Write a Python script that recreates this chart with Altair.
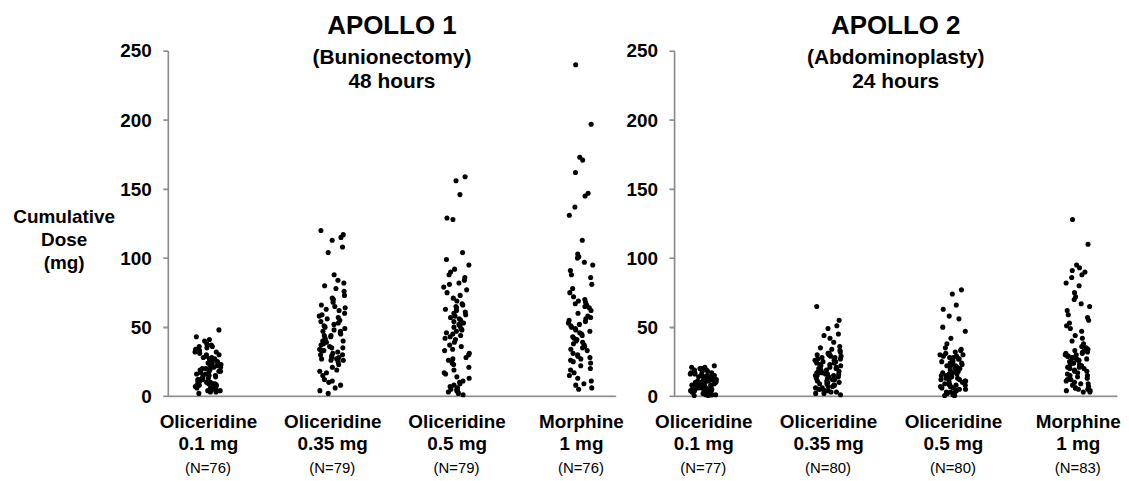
import json
import altair as alt
import pandas as pd

FONT = "Liberation Sans"

# category labels (two bold lines each), group sizes, y tick values
label_lines = [["Oliceridine", "0.1 mg"], ["Oliceridine", "0.35 mg"],
               ["Oliceridine", "0.5 mg"], ["Morphine", "1 mg"]]
a1_n = [76, 79, 79, 76]
a2_n = [77, 80, 80, 83]
y_ticks = [0, 50, 100, 150, 200, 250]

# APOLLO 1 (Bunionectomy) 48 hours, cumulative dose (mg)
a1_oli_010 = [48, 43, 41, 40, 38, 37, 36, 36, 35, 34,
              33, 32, 32, 31, 30, 30, 29, 28, 28, 27,
              27, 26, 25, 25, 24, 24, 23, 22, 22, 21,
              21, 20, 20, 19, 19, 18, 18, 17, 17, 16,
              16, 15, 15, 14, 14, 13, 13, 12, 12, 12,
              11, 11, 10, 10, 10, 9, 9, 9, 8, 8,
              8, 7, 7, 7, 6, 6, 6, 5, 5, 5,
              4, 4, 4, 3, 3, 2]
a1_oli_035 = [120, 117, 115, 113, 108, 104,
              88, 84, 82, 80, 78, 76, 73, 71, 70, 68,
              66, 65, 64, 63, 62, 60, 59, 58, 57, 56,
              55, 54, 53, 52, 51, 50, 49, 48, 47, 47,
              46, 45, 44, 43, 42, 41, 40, 40, 39, 38,
              37, 36, 35, 35, 34, 33, 32, 31, 30, 30,
              29, 28, 27, 27, 26, 26, 28, 33, 44,
              25, 23, 21, 19, 18, 17, 15, 12, 11, 10, 8, 6, 4, 2]
a1_oli_050 = [159, 156, 146, 129, 128, 104,
              99, 95, 92, 90, 88, 86, 84, 82, 81, 79, 77, 75, 73, 71,
              69, 67, 66, 65, 64, 63, 62, 61, 60, 59, 58, 57, 56, 55,
              54, 53, 52, 51, 50, 49, 48, 47, 46, 45, 44, 43, 42, 41,
              39, 37, 36, 34, 33, 31, 30, 28, 27, 26, 24, 23, 21, 19, 17, 16,
              14, 13, 11, 10, 9, 8, 7, 6, 5, 5, 4, 3, 3, 2, 1]
a1_mor_1 = [240, 197, 173, 171, 162, 147, 145, 137, 131, 113,
            103, 101, 100, 97, 95, 91, 88, 86, 81,
            78, 75, 72, 70, 69, 68, 67, 66, 65, 64,
            62, 60, 58, 57, 56, 55, 54, 53, 52, 51,
            50, 49, 48, 47, 46, 45, 44, 43, 42, 41,
            40, 39, 38, 37, 36, 35, 34, 33, 31, 30,
            29, 28, 27, 26, 25, 24, 22, 20, 19, 17,
            15, 13, 11, 9, 8, 6, 5]

# APOLLO 2 (Abdominoplasty) 24 hours, cumulative dose (mg)
a2_oli_010 = [22, 21, 21, 20, 20, 19, 19, 18, 18, 17,
              17, 17, 16, 16, 16, 15, 15, 15, 14, 14,
              14, 13, 13, 13, 12, 12, 12, 12, 11, 11,
              11, 11, 10, 10, 10, 10, 9, 9, 9, 9,
              8, 8, 8, 8, 7, 7, 7, 7, 7, 6,
              6, 6, 6, 6, 5, 5, 5, 5, 5, 4,
              4, 4, 4, 3, 3, 3, 3, 2, 2, 2,
              2, 1, 1, 1, 1, 0.5, 0.5]
a2_oli_035 = [65, 55, 51, 49, 45, 44, 42, 39, 36, 35, 34, 33,
              32, 31, 31, 30, 30, 29, 29, 28, 28, 27,
              27, 26, 26, 25, 25, 24, 24, 23, 23, 22,
              22, 21, 21, 20, 20, 20, 19, 19, 19, 18,
              18, 18, 17, 17, 17, 16, 16, 16, 15, 15,
              15, 14, 14, 13, 13, 12, 12, 11, 11, 10,
              10, 9, 9, 8, 8, 7, 7, 6, 6, 5,
              5, 4, 4, 3, 3, 2, 2, 1]
a2_oli_050 = [77, 74, 66, 63, 58, 56, 50, 47, 42, 38,
              35, 34, 33, 32, 31, 30, 30, 29, 29, 28,
              28, 27, 27, 26, 26, 25, 25, 24, 24, 23,
              23, 22, 22, 21, 21, 20, 20, 19, 19, 18,
              18, 17, 17, 16, 16, 15, 15, 14, 14, 13,
              13, 12, 12, 11, 11, 10, 10, 9, 9, 8,
              8, 7, 7, 6, 6, 5, 5, 4, 4, 3,
              3, 2, 2, 1, 1, 1, 0.5, 0.5, 12, 8]
a2_mor_1 = [128, 110, 95, 93, 91, 90, 88, 86, 82, 80,
            75, 72, 70, 67, 65, 62, 59, 57, 55, 53,
            51, 49, 47, 44, 42, 40, 38,
            36, 35, 34, 33, 33, 32, 32, 31, 31, 30,
            30, 29, 29, 28, 28, 27, 27, 26, 26, 25,
            25, 24, 24, 23, 23, 22, 22, 21, 21, 20,
            20, 19, 18, 18, 17, 16, 15, 15, 14, 13,
            12, 12, 11, 10, 9, 9, 8, 7, 6, 6,
            5, 5, 4, 4, 3, 3]


def points_df(series):
    rows = []
    for ci, vals in enumerate(series):
        for j, v in enumerate(vals):
            rows.append({"cat": ci + 1, "idx": ci * 100 + j + 1, "dose": v})
    return pd.DataFrame(rows)


def n_df(ns):
    return pd.DataFrame({"cat": [1, 2, 3, 4], "label": [f"(N={n})" for n in ns]})


label_expr = " : ".join(
    f"datum.value == {i + 1} ? {json.dumps(l)}" for i, l in enumerate(label_lines)
) + " : ''"

H = 347
AXIS_GRAY = "#8a8a8a"
HALF = 0.65  # half thickness of axis lines in px


def bar_path(length, horizontal):
    # filled thin rectangle in Vega's [-1, 1] symbol box, scaled by length / 2
    t = HALF / (length / 2.0)
    if horizontal:
        return f"M-1,{-t:.5f}L1,{-t:.5f}L1,{t:.5f}L-1,{t:.5f}Z"
    return f"M{-t:.5f},-1L{t:.5f},-1L{t:.5f},1L{-t:.5f},1Z"


def panel(series, ns, domain, width, title, subtitle, show_title):
    xscale = alt.Scale(domain=domain, nice=False, zero=False)
    yscale = alt.Scale(domain=[0, 250], nice=False)
    yaxis = alt.Axis(
        values=y_ticks, grid=False, ticks=True, domain=True,
        tickSize=5, tickWidth=1, domainWidth=1, tickColor=AXIS_GRAY, domainColor=AXIS_GRAY,
        labelPadding=12,
        title=(["Cumulative", "Dose", "(mg)"] if show_title else None),
        titleAngle=0, titleAlign="center", titleBaseline="middle",
        titleX=-105, titleY=166, titleLineHeight=23.5,
    )
    xaxis = alt.Axis(
        values=[1, 2, 3, 4], labelExpr=label_expr, ticks=False, grid=False, domain=True,
        domainWidth=1, domainColor=AXIS_GRAY,
        labelPadding=16, labelBaseline="top", labelLineHeight=23,
        labelOverlap=False, labelFlush=False, title=None,
    )
    yenc = alt.Y("dose:Q", scale=yscale, axis=yaxis)
    # axis line and ticks as thin filled shapes
    yline = alt.Chart(pd.DataFrame({"dose": [125]})).mark_point(
        shape=bar_path(H, False), filled=True, size=H * H, color=AXIS_GRAY, opacity=1
    ).encode(x=alt.value(0), y=yenc)
    xline = alt.Chart(pd.DataFrame({"dose": [0]})).mark_point(
        shape=bar_path(width, True), filled=True, size=width * width, color=AXIS_GRAY,
        opacity=1
    ).encode(x=alt.value(width / 2.0), y=yenc)
    yticks = alt.Chart(pd.DataFrame({"dose": y_ticks})).mark_point(
        shape=bar_path(5, True), filled=True, size=25, color=AXIS_GRAY, opacity=1
    ).encode(x=alt.value(-2.5), y=yenc)
    pts = alt.Chart(points_df(series)).transform_calculate(
        jx="datum.cat + ((abs(sin(datum.idx * 12.9898) * 43758.5453) % 1) - 0.5) * 0.21"
    ).mark_circle(size=26, color="black", opacity=1).encode(
        x=alt.X("jx:Q", scale=xscale, axis=xaxis),
        y=yenc,
    )
    ntext = alt.Chart(n_df(ns)).transform_calculate(
        jx="datum.cat"
    ).mark_text(
        font=FONT, fontSize=15, color="black", baseline="alphabetic", align="center"
    ).encode(
        x=alt.X("jx:Q", scale=xscale, axis=xaxis),
        y=alt.value(H + 77),
        text="label:N",
    )
    return alt.layer(yline, xline, yticks, pts, ntext).properties(
        width=width, height=H,
        title=alt.TitleParams(
            text=title, subtitle=subtitle, font=FONT, fontSize=26, fontWeight="bold",
            color="black", subtitleFont=FONT, subtitleFontSize=21,
            subtitleFontWeight="bold", subtitleColor="black", subtitleLineHeight=24,
            subtitlePadding=8.5, anchor="middle", offset=-50,
        ),
    )


left = panel([a1_oli_010, a1_oli_035, a1_oli_050, a1_mor_1], a1_n, [0.68, 4.28], 450,
             "APOLLO 1", ["(Bunionectomy)", "48 hours"], True)
right = panel([a2_oli_010, a2_oli_035, a2_oli_050, a2_mor_1], a2_n, [0.7689, 4.3147], 445,
              "APOLLO 2", ["(Abdominoplasty)", "24 hours"], False)

chart = alt.hconcat(left, right, spacing=59, bounds="flush").configure_view(
    stroke=None
).configure_axis(
    labelFont=FONT, labelFontSize=19, labelFontWeight="bold", labelColor="black",
    titleFont=FONT, titleFontSize=19, titleFontWeight="bold", titleColor="black",
).properties(
    padding={"left": 4, "top": 3, "right": 0, "bottom": 0},
    background="white",
)

chart.save("out.html", embed_options={"renderer": "svg", "actions": False})
